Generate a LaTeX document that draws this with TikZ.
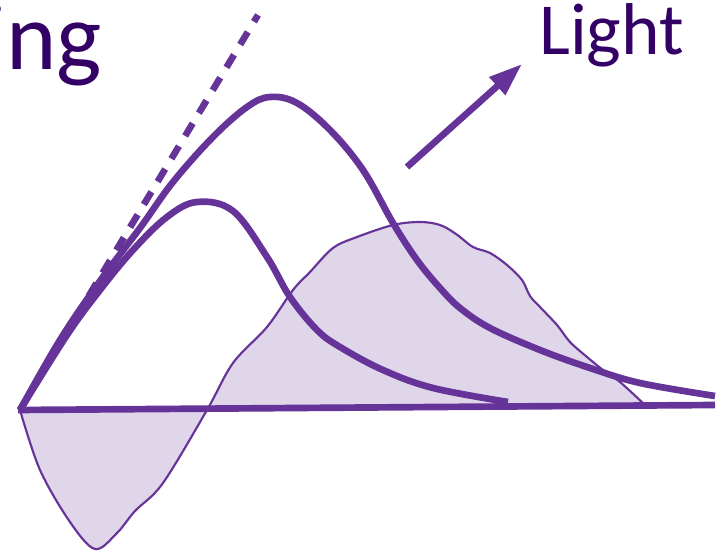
\documentclass[tikz,border=0pt]{standalone}
\usepackage{fontspec}
\setmainfont{Carlito}
\usetikzlibrary{arrows.meta}
\definecolor{curvepurple}{HTML}{663399}
\definecolor{textpurple}{HTML}{330066}
\definecolor{shadepurple}{HTML}{DFD6EA}

\begin{document}
\begin{tikzpicture}[x=0.75pt, y=-0.75pt, >={Triangle[length=25pt,width=17pt]},
    curve/.style={curvepurple, line width=5pt, line join=miter},
    wordlabel/.style={textpurple, inner sep=0pt}]
    \useasboundingbox (0,0) rectangle (725,552);

    % shaded area
    \draw[curvepurple, line width=1.6pt, fill=shadepurple] plot[smooth, tension=0.55] coordinates {
        (20,410) (40,470) (70,522) (95,549) (117,533) (135,511) (163,483) (207,410)
        (233,363) (267,327) (293,290) (310,272) (333,248) (357,237) (393,225)
        (420,222) (440,225) (456,234) (473,247) (490,253) (507,265) (522,280)
        (530,296) (540,307) (557,325) (570,342) (587,357) (603,370) (620,382) (645,405)} -- cycle;

    % axis
    \draw[curve] (18,410) -- (715,405);

    % curves
    \draw[curve] plot[smooth, tension=0.6] coordinates {
        (20,410) (60,340) (100,281) (140,228) (173,182) (213,137) (247,107) (270,97)
        (297,103) (330,130) (363,170) (393,223) (417,260) (440,288) (460,308)
        (490,328) (540,350) (590,368) (640,383) (715,396)};
    \draw[curve] plot[smooth, tension=0.6] coordinates {
        (20,410) (67,335) (100,290) (133,250) (167,217) (197,202) (233,211) (267,257)
        (290,297) (317,330) (340,347) (383,370) (433,388) (508,402)};

    % tangent
    \draw[curve, dash pattern=on 11pt off 9pt] (20,410) -- (258,15);

    % arrow
    \coordinate (arrowtail) at (407,167);
    \coordinate (arrowtip) at (522,64);
    \draw[->, curve] (arrowtail) -- (arrowtip);

    \node[wordlabel, font=\fontsize{72}{72}\selectfont, anchor=base east] (ing) at (102,70) {ing};
    \node[wordlabel, font=\fontsize{55}{55}\selectfont, anchor=base west] (light) at (539,55) {Light};
\end{tikzpicture}
\end{document}
